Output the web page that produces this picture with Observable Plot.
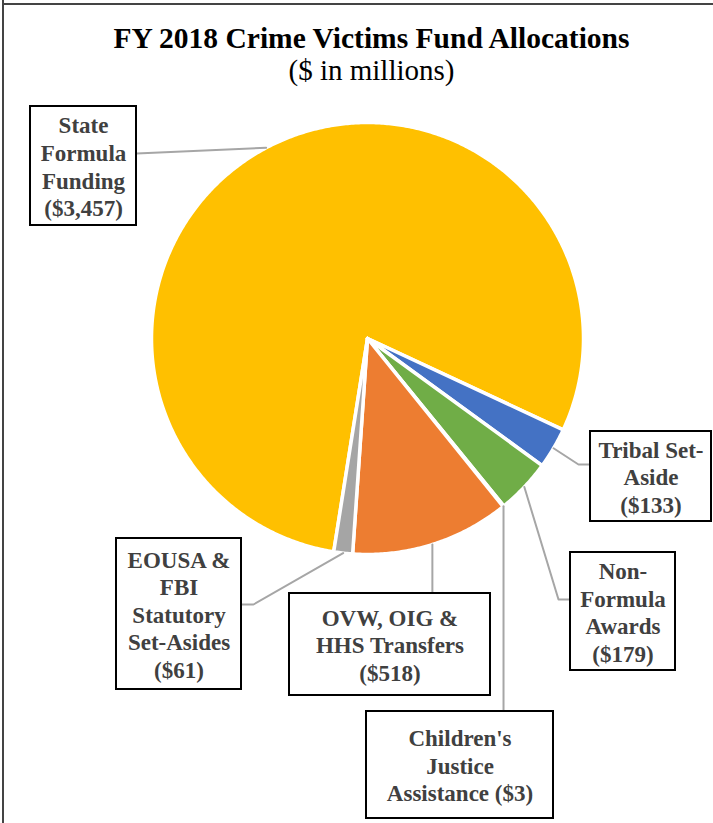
<!DOCTYPE html>
<html>
<head>
<meta charset="utf-8">
<script src="https://cdn.jsdelivr.net/npm/d3@7"></script>
<script src="https://cdn.jsdelivr.net/npm/@observablehq/plot@0.6"></script>
<style>
  html, body { margin: 0; padding: 0; background: #fff; }
  #wrap { position: relative; width: 713px; height: 823px; overflow: hidden; }
  #title { position: absolute; left: 0; top: 0; width: 743px; text-align: center;
           font-family: "Liberation Serif", "Times New Roman", serif; color: #000; }
  #title .t { position: absolute; left: 0; width: 100%; top: 21px; font-size: 29.5px; font-weight: bold; line-height: 34px; }
  #title .s { position: absolute; left: 0; width: 100%; top: 53px; font-size: 29px; line-height: 34px; }
  #chart { position: absolute; left: 0; top: 95px; }
  .vline { position: absolute; left: 2px; top: 0; width: 2px; height: 823px; background: #444; }
  .hline { position: absolute; left: 2px; top: 3px; width: 711px; height: 2px; background: #444; }
</style>
</head>
<body>
<div id="wrap">
  <div id="title"><div class="t">FY 2018 Crime Victims Fund Allocations</div><div class="s">($ in millions)</div></div>
  <div id="chart"></div>
  <div class="vline"></div>
  <div class="hline"></div>
</div>
<script>
// ---- data ----
const categories = ["State Formula Funding", "Tribal Set-Aside", "Non-Formula Awards",
  "Children's Justice Assistance", "OVW, OIG & HHS Transfers", "EOUSA & FBI Statutory Set-Asides"];
const values = [3457, 133, 179, 3, 518, 61];
const labelLines = [
  ["State", "Formula", "Funding", "($3,457)"],
  ["Tribal Set-", "Aside", "($133)"],
  ["Non-", "Formula", "Awards", "($179)"],
  ["Children's", "Justice", "Assistance ($3)"],
  ["OVW, OIG &", "HHS Transfers", "($518)"],
  ["EOUSA &", "FBI", "Statutory", "Set-Asides", "($61)"]
];
const colors = ["#FFC000", "#4472C4", "#70AD47", "#5B9BD5", "#ED7D31", "#A5A5A5"];

// ---- layout (page pixel coordinates) ----
const W = 713, H = 823, TOP = 95;
const cx = 367, cy = 338, R = 216;
const startAngle = 189; // degrees, clockwise from 12 o'clock
// label boxes [x1, y1, x2, y2]
const boxes = [
  [30, 106, 136, 225],
  [590, 431, 711, 521],
  [570, 552, 675, 670],
  [366, 711, 553, 818],
  [289, 593, 490, 695],
  [116, 538, 241, 689]
];
// leader elbows / ends (null x means vertical line)
const leaders = [
  {elbow: null, end: [136, 153]},
  {elbow: [578, 464], end: [590, 464]},
  {elbow: [558, 599], end: [570, 599]},
  {elbow: null, end: [null, 711]},
  {elbow: null, end: [null, 593]},
  {elbow: [253, 604], end: [241, 604]}
];

const rad = d => d * Math.PI / 180;
const pie = d3.pie().sort(null).value(d => d.value)
  .startAngle(rad(startAngle)).endAngle(rad(startAngle + 360));
const rows = categories.map((c, i) => ({category: c, value: values[i], color: colors[i], i}));
const arcs = pie(rows);

const pt = (a, r) => [cx + r * Math.sin(a), cy - r * Math.cos(a)];

// slice polygons
const slicePts = [];
for (const a of arcs) {
  const n = Math.max(2, Math.ceil((a.endAngle - a.startAngle) / rad(0.5)));
  slicePts.push({k: a.data.category, color: a.data.color, x: cx, y: cy});
  for (let j = 0; j <= n; j++) {
    const t = a.startAngle + (a.endAngle - a.startAngle) * j / n;
    const [x, y] = pt(t, R);
    slicePts.push({k: a.data.category, color: a.data.color, x, y});
  }
  slicePts.push({k: a.data.category, color: a.data.color, x: cx, y: cy});
}

// leader lines from slice mid-angle on circumference
const leaderPts = [];
arcs.forEach((a, i) => {
  const mid = (a.startAngle + a.endAngle) / 2;
  const [sx, sy] = pt(mid, R);
  const L = leaders[i];
  leaderPts.push({k: i, x: sx, y: sy});
  if (L.elbow) leaderPts.push({k: i, x: L.elbow[0], y: L.elbow[1]});
  leaderPts.push({k: i, x: L.end[0] == null ? sx : L.end[0], y: L.end[1]});
});

const boxRows = boxes.map((b, i) => ({x1: b[0], y1: b[1], x2: b[2], y2: b[3],
  tx: (b[0] + b[2]) / 2, ty: (b[1] + b[3]) / 2, text: labelLines[i].join("\n")}));

const chart = Plot.plot({
  width: W, height: H - TOP,
  margin: 0,
  x: {domain: [0, W], range: [0, W], axis: null},
  y: {domain: [TOP, H], range: [0, H - TOP], axis: null},
  style: {background: "transparent", overflow: "visible"},
  marks: [
    Plot.line(slicePts, {x: "x", y: "y", z: "k", fill: "color", stroke: "white", strokeWidth: 3.5, strokeLinejoin: "round"}),
    Plot.line(leaderPts, {x: "x", y: "y", z: "k", stroke: "#A6A6A6", strokeWidth: 2}),
    Plot.rect(boxRows, {x1: "x1", x2: "x2", y1: "y1", y2: "y2", fill: "white", stroke: "#000", strokeWidth: 2}),
    Plot.text(boxRows, {x: "tx", y: "ty", text: "text", fill: "#404040", fontSize: 23, fontWeight: "bold",
      fontFamily: "Liberation Serif, Times New Roman, serif", lineHeight: 1.2, lineAnchor: "middle", textAnchor: "middle"})
  ]
});
document.getElementById("chart").appendChild(chart);
</script>
</body>
</html>
